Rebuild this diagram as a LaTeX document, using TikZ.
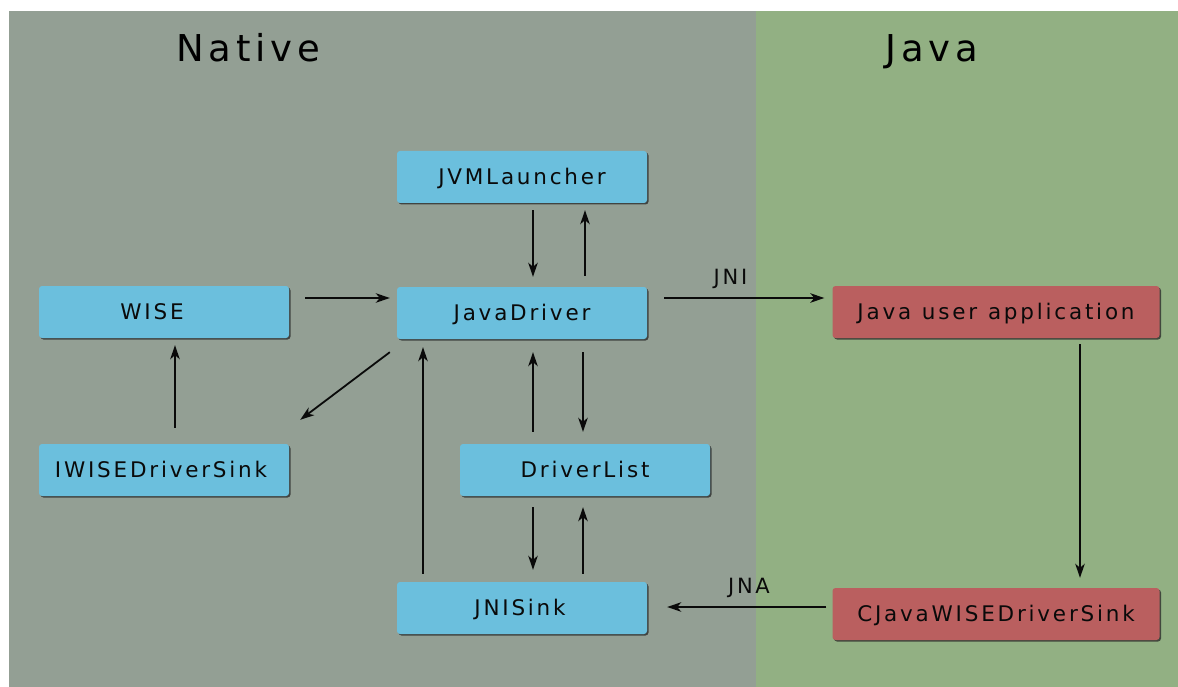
\documentclass[tikz,border=0pt]{standalone}
\usepackage{fontspec}
\usetikzlibrary{arrows.meta,shadows}
\newfontfamily\lbl[LetterSpace=13]{DejaVu Sans}
\definecolor{nativebg}{HTML}{939F94}
\definecolor{javabg}{HTML}{92B083}
\definecolor{boxblue}{HTML}{6BBFDD}
\definecolor{boxred}{HTML}{BA5F5F}
\definecolor{ink}{HTML}{0A0A0A}
\tikzset{
  box/.style={rectangle, rounded corners=3pt, minimum width=250pt, minimum height=52pt,
    inner sep=0pt, text height=19pt, text depth=4pt,
    font=\lbl\fontsize{21.5}{26}\selectfont, text=ink,
    drop shadow={shadow xshift=1.5pt, shadow yshift=-1.5pt, fill=black!85, opacity=0.75}},
  nbox/.style={box, fill=boxblue},
  jbox/.style={box, fill=boxred, minimum width=327pt},
  arr/.style={draw=ink, line width=1.8pt, -{Stealth[length=14pt, width=9.5pt, inset=4pt]}},
  title/.style={font=\lbl\fontsize{37}{44}\selectfont, text=black, anchor=base, inner sep=0pt},
  elabel/.style={font=\lbl\fontsize{21}{26}\selectfont, text=ink, inner sep=0pt}
}
\newcommand{\wsp}{\hspace{0.5em}}
\begin{document}
\begin{tikzpicture}[x=1pt, y=-1pt]
  \useasboundingbox (0,0) rectangle (1178,687);
  % two regions
  \fill[nativebg] (9,11) rectangle (756,687);
  \fill[javabg] (756,11) rectangle (1178,687);
  \node[title] (tnative) at (248,62) {Native};
  \node[title] (tjava) at (932,62) {Java};

  % native components
  \node[nbox] (jvm) at (522,177) {JVMLauncher};
  \node[nbox] (jd) at (522,313) {JavaDriver};
  \node[nbox] (wise) at (164,312) {WISE\hspace*{24pt}};
  \node[nbox] (iwise) at (164,470) {IWISEDriverSink\hspace*{6pt}};
  \node[nbox] (dl) at (585,470) {DriverList};
  \node[nbox] (jni) at (522,608) {JNISink\hspace*{4pt}};

  % java components
  \node[jbox] (app) at (996,312) {Java\wsp user\wsp application};
  \node[jbox] (cj) at (996,614) {CJavaWISEDriverSink};

  % connectors
  \draw[arr, shorten <=7pt, shorten >=10pt] ([xshift=11pt]jvm.south) -- ([xshift=11pt]jd.north);
  \draw[arr, shorten <=11pt, shorten >=7pt] ([xshift=63pt]jd.north) -- ([xshift=63pt]jvm.south);
  \draw[arr, shorten <=16pt, shorten >=7pt] ([yshift=14pt]wise.east) -- ([yshift=14pt]wise.east -| jd.west);
  \draw[arr, shorten <=17pt, shorten >=8pt] ([yshift=15pt]jd.east) -- ([yshift=15pt]jd.east -| app.west)
    node[elabel, pos=0.45, above=8pt] (jnilbl) {JNI};
  \draw[arr] ([shift={(-7,13)}]jd.south west) -- ([shift={(11,-24)}]iwise.north east);
  \draw[arr, shorten <=16pt, shorten >=7pt] ([xshift=11pt]iwise.north) -- ([xshift=11pt]wise.south);
  \draw[arr, shorten <=12pt, shorten >=13pt] ([xshift=-52pt]dl.north) -- ([xshift=11pt]jd.south);
  \draw[arr, shorten <=13pt, shorten >=12pt] ([xshift=61pt]jd.south) -- ([xshift=-2pt]dl.north);
  \draw[arr, shorten <=11pt, shorten >=12pt] ([xshift=-52pt]dl.south) -- ([xshift=11pt]jni.north);
  \draw[arr, shorten <=8pt, shorten >=11pt] ([xshift=61pt]jni.north) -- ([xshift=-2pt]dl.south);
  \draw[arr, shorten <=8pt, shorten >=8pt] ([xshift=-99pt]jni.north) -- ([xshift=-99pt]jd.south);
  \draw[arr, shorten <=6pt, shorten >=10pt] ([xshift=84pt]app.south) -- ([xshift=84pt]cj.north);
  \draw[arr, shorten <=6pt, shorten >=20pt] ([yshift=7pt]cj.west) -- ([yshift=7pt]cj.west -| jni.east)
    node[elabel, pos=0.45, above=8pt] (jnalbl) {JNA};
\end{tikzpicture}
\end{document}
